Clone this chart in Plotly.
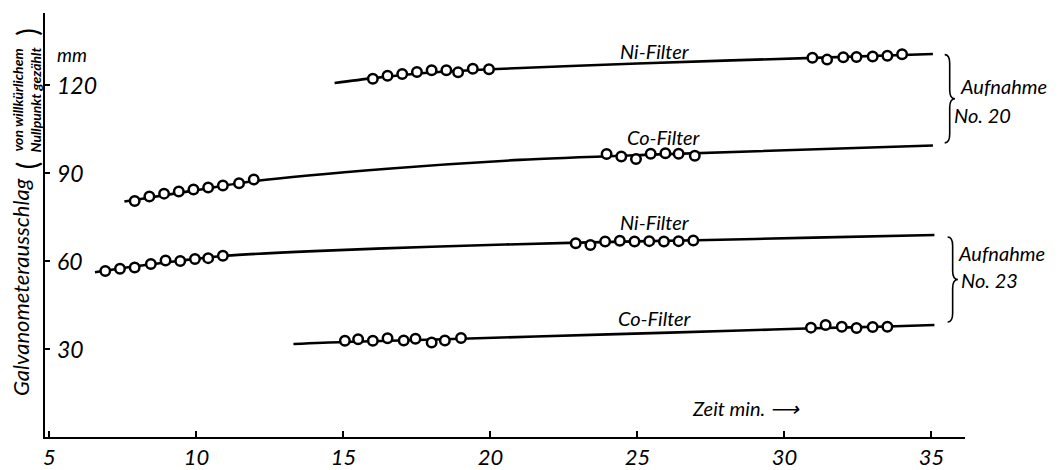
import plotly.graph_objects as go

# ---------------- data ----------------
# Aufnahme No. 20, Ni-Filter
ni20_t = [16.0, 16.5, 17.0, 17.5, 18.0, 18.5, 18.9, 19.4, 19.95,
          30.95, 31.45, 32.0, 32.45, 33.0, 33.5, 34.0]
ni20_v = [122.2, 123.2, 123.8, 124.5, 125.1, 125.1, 124.4, 125.6, 125.4,
          129.3, 128.7, 129.5, 129.6, 129.8, 130.0, 130.5]
ni20_curve_t = [14.7, 16.0, 18.0, 20.0, 25.0, 31.0, 35.05]
ni20_curve_v = [120.7, 122.4, 124.3, 125.4, 127.4, 129.3, 130.6]

# Aufnahme No. 20, Co-Filter
co20_t = [7.9, 8.4, 8.9, 9.4, 9.9, 10.4, 10.9, 11.45, 11.95,
          23.95, 24.45, 24.95, 25.45, 25.95, 26.4, 26.95]
co20_v = [80.5, 82.0, 83.0, 83.7, 84.4, 85.1, 85.8, 86.5, 87.8,
          96.5, 95.7, 94.8, 96.6, 96.8, 96.6, 95.9]
co20_curve_t = [7.55, 8.0, 10.0, 12.0, 16.5, 21.0, 25.5, 35.05]
co20_curve_v = [80.3, 81.0, 84.2, 87.3, 91.5, 94.5, 96.3, 99.4]

# Aufnahme No. 23, Ni-Filter
ni23_t = [6.9, 7.4, 7.9, 8.45, 8.95, 9.45, 9.95, 10.4, 10.9,
          22.9, 23.4, 23.9, 24.4, 24.9, 25.4, 25.9, 26.4, 26.9]
ni23_v = [56.6, 57.4, 57.8, 59.0, 60.2, 60.0, 60.7, 61.0, 61.8,
          66.1, 65.5, 66.7, 66.9, 66.7, 66.8, 66.7, 66.8, 67.0]
ni23_curve_t = [6.55, 8.0, 9.5, 11.0, 14.0, 18.0, 23.0, 27.0, 31.0, 35.1]
ni23_curve_v = [56.2, 58.3, 60.2, 61.8, 63.4, 64.9, 66.3, 67.1, 68.0, 68.9]

# Aufnahme No. 23, Co-Filter
co23_t = [15.05, 15.5, 16.0, 16.5, 17.05, 17.45, 18.0, 18.45, 19.0,
          30.9, 31.4, 31.95, 32.45, 33.0, 33.5]
co23_v = [32.8, 33.3, 32.8, 33.7, 32.9, 33.5, 32.2, 32.9, 33.8,
          37.3, 38.2, 37.6, 37.2, 37.5, 37.6]
co23_curve_t = [13.3, 15.0, 19.0, 24.0, 28.5, 31.0, 33.5, 35.1]
co23_curve_v = [31.7, 32.4, 33.5, 35.0, 36.3, 37.1, 37.7, 38.2]

x_ticks = [5, 10, 15, 20, 25, 30, 35]
y_ticks = [30, 60, 90, 120]

# ---------------- figure ----------------
FONT = "Lato"
fig = go.Figure()

curves = [(ni20_curve_t, ni20_curve_v), (co20_curve_t, co20_curve_v),
          (ni23_curve_t, ni23_curve_v), (co23_curve_t, co23_curve_v)]
points = [(ni20_t, ni20_v), (co20_t, co20_v), (ni23_t, ni23_v), (co23_t, co23_v)]

for t, v in curves:
    fig.add_trace(go.Scatter(x=t, y=v, mode="lines",
                             line=dict(color="black", width=2.6, shape="spline", smoothing=0.8),
                             hoverinfo="skip", showlegend=False, cliponaxis=False))
for t, v in points:
    fig.add_trace(go.Scatter(x=t, y=v, mode="markers",
                             marker=dict(symbol="circle", size=9.5, color="white",
                                         line=dict(color="black", width=2.5)),
                             showlegend=False, cliponaxis=False))

fig.update_xaxes(range=[4.85, 36.14], tickvals=x_ticks, ticktext=[str(v) for v in x_ticks],
                 showline=True, linecolor="black", linewidth=2, automargin=False,
                 ticks="inside", ticklen=6, tickwidth=2, tickcolor="black",
                 showgrid=False, zeroline=False,
                 tickfont=dict(family=FONT, size=22, color="black", style="italic"))
fig.update_yaxes(range=[0, 144.6], tickvals=y_ticks, showticklabels=False,
                 showline=True, linecolor="black", linewidth=2, automargin=False,
                 ticks="inside", ticklen=5, tickwidth=2, tickcolor="black",
                 showgrid=False, zeroline=False)

# y tick labels, placed just right of the axis at the tick values
for v in y_ticks:
    fig.add_annotation(text=str(v), x=5.2, y=v, xref="x", yref="y", xanchor="left",
                       yanchor="middle", showarrow=False,
                       font=dict(family=FONT, size=23, color="black", style="italic"))


def brace(x0, x1, x2, yt, yb, c):
    ym = (yt + yb) / 2
    return (f"M {x0},{yt} Q {x1},{yt} {x1},{yt - c} L {x1},{ym + c} "
            f"Q {x1},{ym} {x2},{ym} Q {x1},{ym} {x1},{ym - c} "
            f"L {x1},{yb + c} Q {x1},{yb} {x0},{yb}")


fig.add_shape(type="path", xref="x", yref="y",
              path=brace(35.45, 35.62, 35.8, 130.4, 100.3, 3.0),
              line=dict(color="black", width=1.6))
fig.add_shape(type="path", xref="x", yref="y",
              path=brace(35.55, 35.72, 35.9, 68.2, 39.2, 3.0),
              line=dict(color="black", width=1.6))

lab = dict(family=FONT, size=20, color="black", style="italic")
ann = [
    ("Ni-Filter", 25.6, 131.8, "center"),
    ("Co-Filter", 25.9, 102.4, "center"),
    ("Ni-Filter", 25.6, 73.4, "center"),
    ("Co-Filter", 25.6, 40.7, "center"),
    ("Aufnahme", 35.9, 119.7, "left"),
    ("No. 20", 35.7, 109.8, "left"),
    ("Aufnahme", 35.85, 62.7, "left"),
    ("No. 23", 35.95, 53.5, "left"),
    ("Zeit min. ⟶", 28.7, 9.9, "center"),
]
for text, x, y, xa in ann:
    fig.add_annotation(text=text, x=x, y=y, xref="x", yref="y", xanchor=xa, yanchor="middle",
                       showarrow=False, font=lab)
fig.add_annotation(text="mm", x=5.2, y=130.5, xref="x", yref="y", xanchor="left",
                   yanchor="middle", showarrow=False,
                   font=dict(family=FONT, size=19, color="black", style="italic"))

# y axis title (rotated)
fig.add_annotation(text="Galvanometerausschlag", xref="paper", yref="paper",
                   x=-0.026, y=0.354, xanchor="center", yanchor="middle", textangle=-90,
                   showarrow=False, font=dict(family=FONT, size=22, color="black", style="italic"))
fig.add_annotation(text="<b>von willkürlichem<br>Nullpunkt gezählt</b>", xref="paper", yref="paper",
                   x=-0.02, y=0.795, xanchor="center", yanchor="middle", textangle=-90,
                   showarrow=False,
                   font=dict(family=FONT, size=14, color="black", style="italic"))
fig.add_annotation(text="(", xref="paper", yref="paper", x=-0.02, y=0.64,
                   xanchor="center", yanchor="middle", textangle=-90, showarrow=False,
                   font=dict(family=FONT, size=28, color="black"))
fig.add_annotation(text=")", xref="paper", yref="paper", x=-0.02, y=0.955,
                   xanchor="center", yanchor="middle", textangle=-90, showarrow=False,
                   font=dict(family=FONT, size=28, color="black"))

fig.update_layout(template="none", width=1064, height=470,
                  margin=dict(l=45, r=99, t=13, b=33, autoexpand=False),
                  paper_bgcolor="white", plot_bgcolor="white", showlegend=False)

fig.write_html("out.html", config={"displayModeBar": False})

# remove the browser's default 8px page margin so the figure fills the window exactly
with open("out.html", "r", encoding="utf-8") as f:
    html = f.read()
html = html.replace("<body>", '<body style="margin:0;padding:0;overflow:hidden">', 1)
with open("out.html", "w", encoding="utf-8") as f:
    f.write(html)
